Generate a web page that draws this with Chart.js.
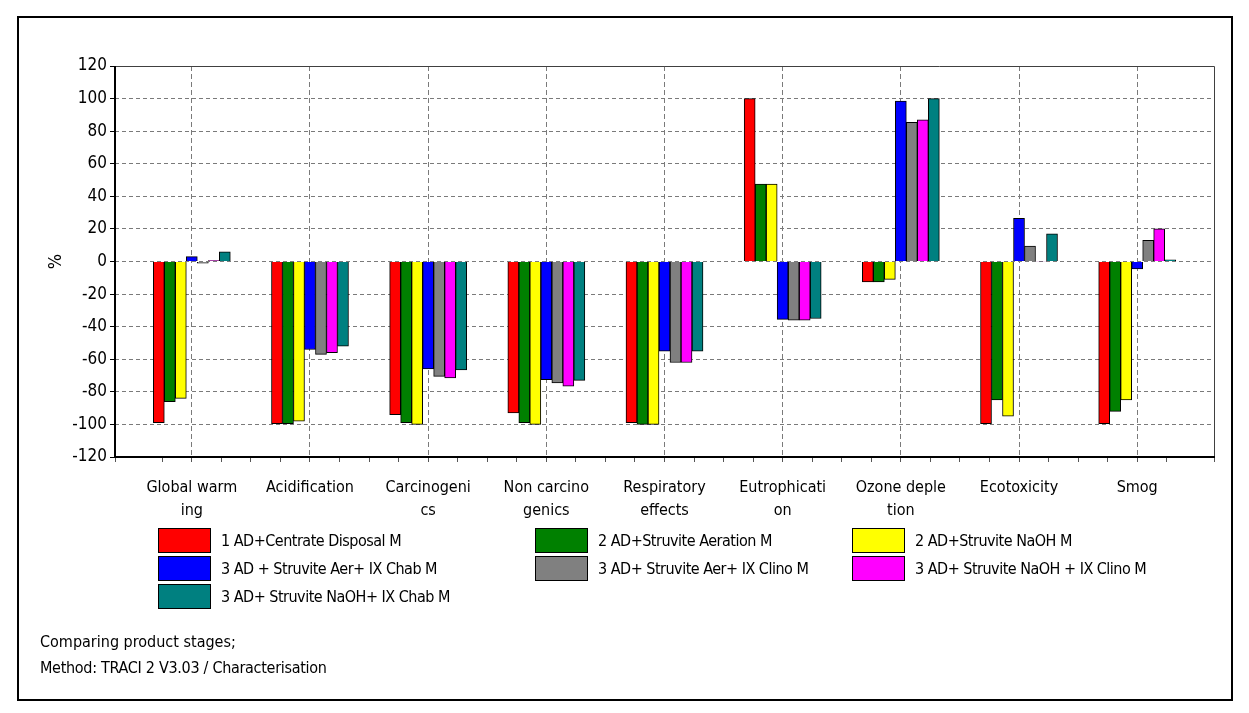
<!DOCTYPE html>
<html>
<head>
<meta charset="utf-8">
<script src="https://cdn.jsdelivr.net/npm/chart.js@4/dist/chart.umd.min.js"></script>
<style>
  body { margin: 0; background: #fff; font-family: "DejaVu Sans Condensed", "Liberation Sans Narrow", "DejaVu Sans", sans-serif; }
  #wrap { position: relative; width: 1249px; height: 713px; overflow: hidden; }
  #frame { position: absolute; left: 17px; top: 16px; width: 1212px; height: 681px; border: 2px solid #000; }
  #chart { position: absolute; left: 0; top: 0; }
  #legend { position: absolute; left: 158px; top: 526px; display: grid; grid-template-columns: 377px 317px 300px; grid-auto-rows: 28px; font-size: 16px; letter-spacing: -0.5px; color: #000; }
  .item { display: flex; align-items: center; white-space: nowrap; }
  .box { display: inline-block; width: 51px; height: 23px; border: 1px solid #000; margin-right: 10px; }
  .note { position: absolute; left: 40px; font-size: 16px; color: #000; }
</style>
</head>
<body>
<div id="wrap">
  <div id="frame"></div>
  <canvas id="chart" width="1249" height="713"></canvas>
  <div id="legend"></div>
  <div class="note" style="top:632px">Comparing product stages;</div>
  <div class="note" style="top:658px; letter-spacing:-0.3px">Method: TRACI 2 V3.03 / Characterisation</div>
</div>
<script>
// Impact categories (split where the original wraps them)
const categories = [
    ['Global warm', 'ing'],
    ['Acidification'],
    ['Carcinogeni', 'cs'],
    ['Non carcino', 'genics'],
    ['Respiratory', 'effects'],
    ['Eutrophicati', 'on'],
    ['Ozone deple', 'tion'],
    ['Ecotoxicity'],
    ['Smog']
];

const seriesNames = [
    '1 AD+Centrate Disposal M',
    '2 AD+Struvite Aeration M',
    '2 AD+Struvite NaOH M',
    '3 AD + Struvite Aer+ IX Chab M',
    '3 AD+ Struvite Aer+ IX Clino M',
    '3 AD+ Struvite NaOH + IX Clino M',
    '3 AD+ Struvite NaOH+ IX Chab M'
];

const seriesColors = ['#ff0000', '#008000', '#ffff00', '#0000ff', '#808080', '#ff00ff', '#008080'];

// Values in %, one array per scenario, in category order
const centrateDisposal = [-99, -99.5, -94, -93, -99, 100, -12.5, -99.5, -99.5];
const struviteAeration = [-86, -99.5, -99, -99, -100, 47.5, -12.5, -85, -92];
const struviteNaOH     = [-84, -98, -100, -100, -100, 47.5, -11, -95, -85];
const aerIxChab        = [3, -54, -66, -72.5, -55, -35.5, 98.5, 26.5, -4.5];
const aerIxClino       = [-1, -57, -70.5, -74.5, -62, -36, 85.5, 9.5, 13];
const naohIxClino      = [0.5, -56, -71.5, -76.5, -62, -36, 87, 0.3, 20];
const naohIxChab       = [6, -52, -66.5, -73, -55, -35, 100, 17, 1];

const seriesValues = [centrateDisposal, struviteAeration, struviteNaOH, aerIxChab, aerIxClino, naohIxClino, naohIxChab];

const yTicks = [-120, -100, -80, -60, -40, -20, 0, 20, 40, 60, 80, 100, 120];

const fontFamily = '"DejaVu Sans Condensed", "Liberation Sans Narrow", "DejaVu Sans", sans-serif';

// Build the legend in three columns like the original
const legendEl = document.getElementById('legend');
seriesNames.forEach(function (name, i) {
    const item = document.createElement('div');
    item.className = 'item';
    item.innerHTML = '<span class="box" style="background:' + seriesColors[i] + '"></span>' + name;
    legendEl.appendChild(item);
});

// Plot frame: thin top/right, heavier left/bottom
const framePlugin = {
    id: 'frame',
    afterDraw(chart) {
        const a = chart.chartArea;
        const ctx = chart.ctx;
        ctx.save();
        ctx.strokeStyle = '#404040';
        ctx.lineWidth = 1;
        ctx.beginPath();
        ctx.moveTo(a.left, a.top + 0.5);
        ctx.lineTo(a.right + 0.5, a.top + 0.5);
        ctx.lineTo(a.right + 0.5, a.bottom);
        ctx.stroke();
        ctx.strokeStyle = '#000';
        ctx.lineWidth = 2;
        ctx.beginPath();
        ctx.moveTo(a.left, a.top);
        ctx.lineTo(a.left, a.bottom);
        ctx.lineTo(a.right + 1, a.bottom);
        ctx.stroke();
        ctx.restore();
    }
};

const chart = new Chart('chart', {
    type: 'bar',
    data: {
        datasets: seriesNames.map(function (name, i) {
            return {
                label: name,
                data: seriesValues[i].map(function (v, k) { return { x: k, y: v }; }),
                backgroundColor: seriesColors[i],
                borderColor: '#000',
                borderWidth: 1,
                barThickness: 11
            };
        })
    },
    options: {
        responsive: false,
        animation: false,
        layout: { padding: { left: 46, top: 66, right: 35, bottom: 186 } },
        plugins: {
            legend: { display: false },
            tooltip: { enabled: false }
        },
        scales: {
            x: {
                type: 'linear',
                min: -0.65,
                max: 8.65,
                offset: false,
                afterFit(scale) { scale.height = 70; },
                ticks: {
                    stepSize: 0.25,
                    autoSkip: false,
                    maxRotation: 0,
                    padding: 14,
                    color: '#000',
                    font: { family: fontFamily, size: 16, lineHeight: 1.45 },
                    callback(value) {
                        return Number.isInteger(value) ? categories[value] : '';
                    }
                },
                grid: {
                    offset: false,
                    lineWidth: 1,
                    color(ctx) {
                        const v = ctx.tick && ctx.tick.value;
                        return Number.isInteger(v) ? '#7a7a7a' : 'rgba(0,0,0,0)';
                    },
                    tickColor: '#555',
                    tickLength: 5
                },
                border: { display: false, dash: [5, 3] }
            },
            y: {
                min: -120,
                max: 120,
                afterFit(scale) { scale.width = 69; },
                afterBuildTicks(scale) {
                    scale.ticks = yTicks.map(function (v) { return { value: v }; });
                },
                title: {
                    display: true,
                    text: '%',
                    color: '#000',
                    font: { family: fontFamily, size: 18 },
                    padding: 0
                },
                ticks: {
                    color: '#000',
                    padding: 3,
                    font: { family: fontFamily, size: 17 }
                },
                grid: {
                    color: '#7a7a7a',
                    lineWidth: 1,
                    tickColor: '#000',
                    tickLength: 5
                },
                border: { display: false, dash: [4, 3] }
            }
        }
    },
    plugins: [framePlugin]
});
</script>
</body>
</html>
